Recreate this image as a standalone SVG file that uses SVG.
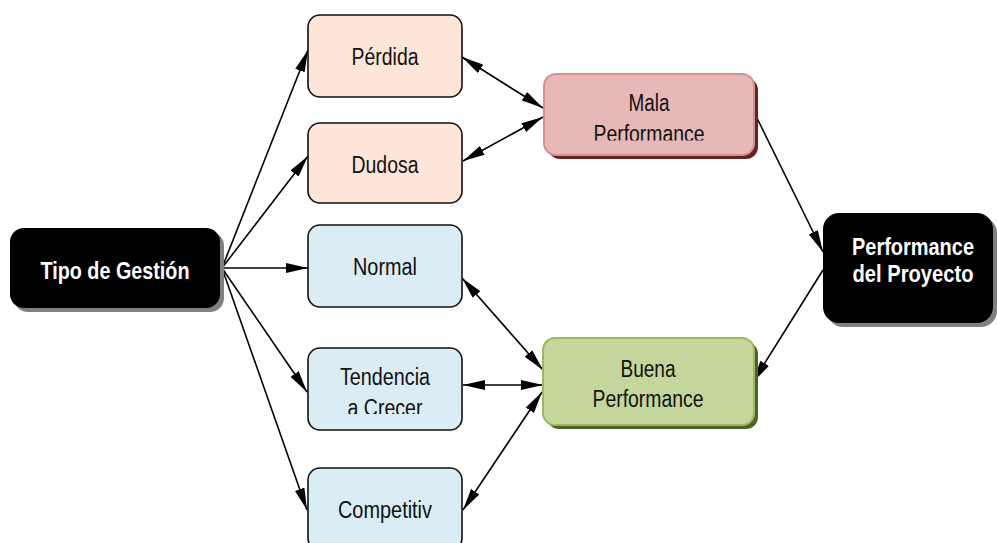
<svg xmlns="http://www.w3.org/2000/svg" width="997" height="543" viewBox="0 0 997 543">
  <style>
    .lbl { font-family: "Liberation Sans", Arial, sans-serif; font-size: 23px; fill: #111; text-anchor: middle; }
    .bold { font-family: "Liberation Sans", Arial, sans-serif; font-size: 24px; font-weight: bold; fill: #fff; text-anchor: middle; }
    .peach { fill: #fde6d8; stroke: #111; stroke-width: 1.6; }
    .blue { fill: #dbedf4; stroke: #111; stroke-width: 1.6; }
    .dark { fill: #000; }
    .gshadow { fill: #808080; }
    .conn line { stroke: #000; stroke-width: 1.6; fill: none; }
  </style>
  <defs>
    <marker id="ah" viewBox="0 0 22 11" refX="22" refY="5.5" markerWidth="22" markerHeight="11" orient="auto-start-reverse" markerUnits="userSpaceOnUse">
      <path d="M0,0.5 L22,5.5 L0,10.5 z" fill="#000"/>
    </marker>
    <clipPath id="clipMala"><rect x="544" y="74" width="210" height="66.5"/></clipPath>
    <clipPath id="clipTend"><rect x="308" y="348" width="154" height="66"/></clipPath>
  </defs>

  <rect width="997" height="543" fill="#fff"/>

  <!-- connectors -->
  <g id="connectors" class="conn">
    <line x1="222" y1="268" x2="308" y2="50" marker-end="url(#ah)"/>
    <line x1="222" y1="268" x2="308" y2="156" marker-end="url(#ah)"/>
    <line x1="222" y1="268" x2="308" y2="268" marker-end="url(#ah)"/>
    <line x1="222" y1="268" x2="307" y2="392" marker-end="url(#ah)"/>
    <line x1="222" y1="268" x2="307" y2="510" marker-end="url(#ah)"/>
    <line x1="462" y1="57" x2="543" y2="108" marker-start="url(#ah)" marker-end="url(#ah)"/>
    <line x1="463" y1="161" x2="543" y2="117" marker-start="url(#ah)" marker-end="url(#ah)"/>
    <line x1="462" y1="278" x2="543" y2="370" marker-start="url(#ah)" marker-end="url(#ah)"/>
    <line x1="463" y1="385" x2="543" y2="385" marker-start="url(#ah)" marker-end="url(#ah)"/>
    <line x1="463" y1="510" x2="542" y2="392" marker-start="url(#ah)" marker-end="url(#ah)"/>
    <line x1="753" y1="110" x2="823" y2="252" marker-end="url(#ah)"/>
    <line x1="823" y1="270" x2="753" y2="382" marker-end="url(#ah)"/>
  </g>

  <!-- source node -->
  <g id="tipo-gestion">
    <rect class="gshadow" x="14" y="232" width="210" height="80" rx="14"/>
    <rect class="dark" x="10" y="228" width="210" height="80" rx="14"/>
    <text class="bold" x="115" y="279" textLength="149" lengthAdjust="spacingAndGlyphs">Tipo de Gestión</text>
  </g>

  <!-- category nodes -->
  <g id="perdida">
    <rect class="peach" x="308" y="15" width="154" height="82" rx="12"/>
    <text class="lbl" x="385" y="65" textLength="67" lengthAdjust="spacingAndGlyphs">Pérdida</text>
  </g>
  <g id="dudosa">
    <rect class="peach" x="308" y="123" width="154" height="80" rx="12"/>
    <text class="lbl" x="385" y="173" textLength="67" lengthAdjust="spacingAndGlyphs">Dudosa</text>
  </g>
  <g id="normal">
    <rect class="blue" x="308" y="225" width="154" height="82" rx="12"/>
    <text class="lbl" x="385" y="275" textLength="64" lengthAdjust="spacingAndGlyphs">Normal</text>
  </g>
  <g id="tendencia">
    <rect class="blue" x="308" y="348" width="154" height="82" rx="12"/>
    <g clip-path="url(#clipTend)">
      <text class="lbl" x="385" y="385" textLength="90" lengthAdjust="spacingAndGlyphs">Tendencia</text>
      <text class="lbl" x="385" y="416" textLength="75" lengthAdjust="spacingAndGlyphs">a Crecer</text>
    </g>
  </g>
  <g id="competitiv">
    <rect class="blue" x="308" y="468" width="154" height="82" rx="12"/>
    <text class="lbl" x="385" y="518" textLength="94" lengthAdjust="spacingAndGlyphs">Competitiv</text>
  </g>

  <!-- performance nodes -->
  <g id="mala">
    <rect x="548" y="78" width="210" height="81" rx="12" fill="#632523"/>
    <rect x="544" y="74" width="210" height="81" rx="12" fill="#e6b8b8" stroke="#d6908f" stroke-width="2"/>
    <g clip-path="url(#clipMala)">
      <text class="lbl" x="649" y="111" textLength="41" lengthAdjust="spacingAndGlyphs">Mala</text>
      <text class="lbl" x="649" y="142" textLength="111" lengthAdjust="spacingAndGlyphs">Performance</text>
    </g>
  </g>
  <g id="buena">
    <rect x="547" y="342" width="211" height="87" rx="12" fill="#4f6228"/>
    <rect x="543" y="338" width="211" height="87" rx="12" fill="#c3d69b" stroke="#9bbb59" stroke-width="2"/>
    <text class="lbl" x="648" y="377" textLength="55" lengthAdjust="spacingAndGlyphs">Buena</text>
    <text class="lbl" x="648" y="407" textLength="111" lengthAdjust="spacingAndGlyphs">Performance</text>
  </g>

  <!-- result node -->
  <g id="proyecto">
    <rect class="gshadow" x="827" y="217" width="170" height="110" rx="16"/>
    <rect class="dark" x="823" y="213" width="170" height="110" rx="16"/>
    <text class="bold" x="913" y="255" textLength="122" lengthAdjust="spacingAndGlyphs">Performance</text>
    <text class="bold" x="913" y="282" textLength="121" lengthAdjust="spacingAndGlyphs">del Proyecto</text>
  </g>
</svg>
